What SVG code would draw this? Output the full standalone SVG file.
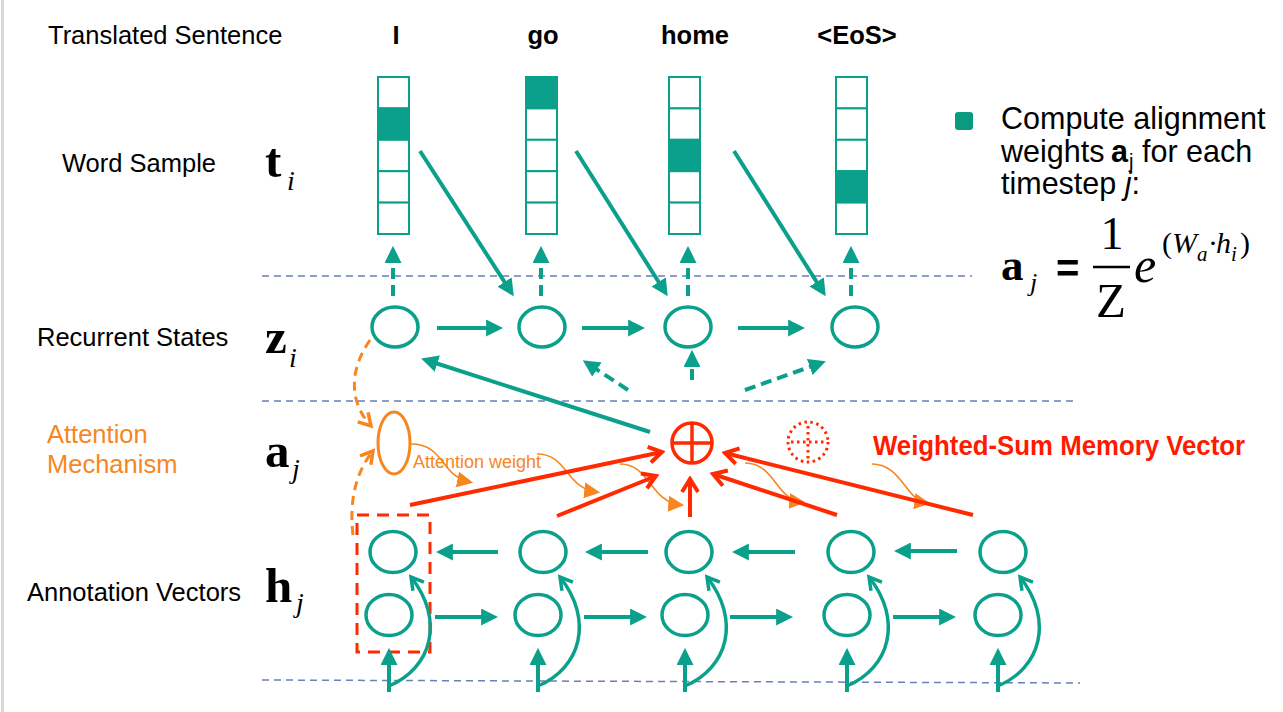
<svg xmlns="http://www.w3.org/2000/svg" width="1283" height="712" viewBox="0 0 1283 712">
<style>
.lbl{font-family:"Liberation Sans",Arial,sans-serif;font-size:25.5px;fill:#000}
.wd{font-family:"Liberation Sans",Arial,sans-serif;font-size:25.5px;font-weight:bold;fill:#000;text-anchor:middle}
.mb{font-family:"Liberation Serif","Times New Roman",serif;font-weight:bold;font-size:49px;fill:#000}
.mi{font-family:"Liberation Serif","Times New Roman",serif;font-style:italic;fill:#000}
.node{fill:none;stroke:#0ba08b;stroke-width:3.5}
.cell{fill:#fff;stroke:#0ba08b;stroke-width:2}
.on{fill:#0ba08b;stroke:#0ba08b;stroke-width:2}
.sep{stroke:#6b7fb8;stroke-width:1.5;stroke-dasharray:7 5;fill:none}
.tl{stroke:#0ba08b;stroke-width:4;fill:none;marker-end:url(#tri)}
.td{stroke:#0ba08b;stroke-width:4;fill:none;stroke-dasharray:11 6;marker-end:url(#tri)}
.tc{stroke:#0ba08b;stroke-width:3.5;fill:none;marker-end:url(#tv)}
.rl{stroke:#ff2a00;stroke-width:4;fill:none;marker-end:url(#rv)}
.od{stroke:#f7861f;stroke-width:3;fill:none;stroke-dasharray:9 6;marker-end:url(#ov)}
.oc{stroke:#f7861f;stroke-width:1.6;fill:none;marker-end:url(#ot)}
</style>
<defs>
<marker id="tri" viewBox="0 0 10 10" refX="7" refY="5" markerWidth="17" markerHeight="17" markerUnits="userSpaceOnUse" orient="auto"><path d="M0,0L10,5L0,10z" fill="#0ba08b"/></marker>
<marker id="tv" viewBox="0 0 20 20" refX="16" refY="10" markerWidth="20" markerHeight="20" markerUnits="userSpaceOnUse" orient="auto"><path d="M4,3L16,10L4,17" fill="none" stroke="#0ba08b" stroke-width="3.5"/></marker>
<marker id="rv" viewBox="0 0 20 20" refX="17" refY="10" markerWidth="20" markerHeight="20" markerUnits="userSpaceOnUse" orient="auto"><path d="M4,2L17,10L4,18" fill="none" stroke="#ff2a00" stroke-width="4"/></marker>
<marker id="ov" viewBox="0 0 20 20" refX="16" refY="10" markerWidth="20" markerHeight="20" markerUnits="userSpaceOnUse" orient="auto"><path d="M4,3L16,10L4,17" fill="none" stroke="#f7861f" stroke-width="3.5"/></marker>
<marker id="ot" viewBox="0 0 10 10" refX="8" refY="5" markerWidth="16" markerHeight="16" markerUnits="userSpaceOnUse" orient="auto"><path d="M0,0L10,5L0,10z" fill="#f7861f"/></marker>
</defs>
<rect width="1283" height="712" fill="#fff"/>
<line x1="2.5" y1="0" x2="2.5" y2="712" stroke="#d8d8d8" stroke-width="3"/>

<g id="separators">
<line class="sep" x1="262" y1="276" x2="972" y2="276"/>
<line class="sep" x1="262" y1="401" x2="1077" y2="401"/>
<line class="sep" x1="262" y1="680" x2="1080" y2="683"/>
</g>

<g id="labels">
<text class="lbl" x="48" y="44">Translated Sentence</text>
<text class="lbl" x="62" y="172">Word Sample</text>
<text class="lbl" x="37" y="346">Recurrent States</text>
<text class="lbl" x="47" y="443" style="fill:#f7861f">Attention</text>
<text class="lbl" x="47" y="473" style="fill:#f7861f">Mechanism</text>
<text class="lbl" x="27" y="601">Annotation Vectors</text>
<text class="mb" x="265" y="177">t</text><text class="mi" x="287" y="190" font-size="28">i</text>
<text class="mb" x="265" y="353">z</text><text class="mi" x="289" y="367" font-size="28">i</text>
<text class="mb" x="265" y="467">a</text><text class="mi" x="292" y="478" font-size="28">j</text>
<text class="mb" x="265" y="602">h</text><text class="mi" x="296" y="612" font-size="28">j</text>
</g>

<g id="words">
<text class="wd" x="396" y="44">I</text>
<text class="wd" x="543" y="44">go</text>
<text class="wd" x="695" y="44">home</text>
<text class="wd" x="857" y="44">&lt;EoS&gt;</text>
</g>

<g id="sample-I">
<rect class="cell" x="378" y="77" width="31" height="31.4"/><rect class="on" x="378" y="108.4" width="31" height="31.4"/><rect class="cell" x="378" y="139.8" width="31" height="31.4"/><rect class="cell" x="378" y="171.2" width="31" height="31.4"/><rect class="cell" x="378" y="202.6" width="31" height="31.4"/>
</g>
<g id="sample-go">
<rect class="on" x="526" y="77" width="31" height="31.4"/><rect class="cell" x="526" y="108.4" width="31" height="31.4"/><rect class="cell" x="526" y="139.8" width="31" height="31.4"/><rect class="cell" x="526" y="171.2" width="31" height="31.4"/><rect class="cell" x="526" y="202.6" width="31" height="31.4"/>
</g>
<g id="sample-home">
<rect class="cell" x="669" y="77" width="31" height="31.4"/><rect class="cell" x="669" y="108.4" width="31" height="31.4"/><rect class="on" x="669" y="139.8" width="31" height="31.4"/><rect class="cell" x="669" y="171.2" width="31" height="31.4"/><rect class="cell" x="669" y="202.6" width="31" height="31.4"/>
</g>
<g id="sample-eos">
<rect class="cell" x="836" y="77" width="31" height="31.4"/><rect class="cell" x="836" y="108.4" width="31" height="31.4"/><rect class="cell" x="836" y="139.8" width="31" height="31.4"/><rect class="on" x="836" y="171.2" width="31" height="31.4"/><rect class="cell" x="836" y="202.6" width="31" height="31.4"/>
</g>

<g id="z1"><ellipse class="node" cx="395" cy="327" rx="23" ry="20"/></g>
<g id="z2"><ellipse class="node" cx="542" cy="327" rx="23" ry="20"/></g>
<g id="z3"><ellipse class="node" cx="688" cy="327" rx="23" ry="20"/></g>
<g id="z4"><ellipse class="node" cx="855" cy="327" rx="23" ry="20"/></g>

<g id="attention"><ellipse cx="394" cy="443" rx="16" ry="31" fill="none" stroke="#f7861f" stroke-width="3"/></g>
<g id="attention-label"><text x="413" y="468" font-family="Liberation Sans, Arial, sans-serif" font-size="18" fill="#f7861f">Attention weight</text></g>

<g id="sum">
<circle cx="692" cy="443" r="20" fill="none" stroke="#ff2a00" stroke-width="3.5"/>
<line x1="672" y1="443" x2="712" y2="443" stroke="#ff2a00" stroke-width="3.5"/>
<line x1="692" y1="423" x2="692" y2="463" stroke="#ff2a00" stroke-width="3.5"/>
</g>
<g id="sum-dotted">
<circle cx="808" cy="442" r="20" fill="none" stroke="#ff2a00" stroke-width="3" stroke-dasharray="2.5 3.5"/>
<line x1="791" y1="442" x2="825" y2="442" stroke="#ff2a00" stroke-width="3" stroke-dasharray="2.5 3.5"/>
<line x1="808" y1="426" x2="808" y2="460" stroke="#ff2a00" stroke-width="3" stroke-dasharray="2.5 3.5"/>
</g>
<g id="memory-label"><text x="873" y="455" font-family="Liberation Sans, Arial, sans-serif" font-size="27" font-weight="bold" fill="#ff1a00" textLength="372" lengthAdjust="spacingAndGlyphs">Weighted-Sum Memory Vector</text></g>

<g id="window"><rect x="357" y="515" width="73" height="137" fill="none" stroke="#ff2a00" stroke-width="3" stroke-dasharray="12 8"/></g>

<g id="hb1"><ellipse class="node" cx="393" cy="552" rx="23" ry="20.5"/></g>
<g id="hb2"><ellipse class="node" cx="543" cy="552" rx="23" ry="20.5"/></g>
<g id="hb3"><ellipse class="node" cx="689" cy="552" rx="23" ry="20.5"/></g>
<g id="hb4"><ellipse class="node" cx="851" cy="552" rx="23" ry="20.5"/></g>
<g id="hb5"><ellipse class="node" cx="1003" cy="552" rx="23" ry="20.5"/></g>
<g id="hf1"><ellipse class="node" cx="389" cy="615" rx="23" ry="20.5"/></g>
<g id="hf2"><ellipse class="node" cx="538" cy="615" rx="23" ry="20.5"/></g>
<g id="hf3"><ellipse class="node" cx="685" cy="615" rx="23" ry="20.5"/></g>
<g id="hf4"><ellipse class="node" cx="847" cy="615" rx="23" ry="20.5"/></g>
<g id="hf5"><ellipse class="node" cx="998" cy="615" rx="23" ry="20.5"/></g>

<g id="bullet">
<rect x="955" y="112" width="18" height="18" rx="3" fill="#0a9a80"/>
<text font-family="Liberation Sans, Arial, sans-serif" font-size="30.5" fill="#000">
<tspan x="1001" y="129">Compute alignment</tspan>
<tspan x="1001" y="161.5">weights</tspan><tspan x="1111" y="161.5" font-weight="bold">a</tspan><tspan x="1129" y="168" font-size="20">j</tspan><tspan x="1142" y="161.5">for each</tspan>
<tspan x="1001" y="194">timestep <tspan font-style="italic">j</tspan>:</tspan>
</text>
</g>
<g id="formula" font-family="Liberation Serif, Times New Roman, serif">
<text x="1001" y="280" font-size="45" font-weight="bold">a</text>
<text x="1030" y="291" font-size="26" font-style="italic">j</text>
<text x="1056" y="282" font-size="40" font-weight="bold" font-family="Liberation Sans, Arial, sans-serif">=</text>
<text x="1112" y="249" font-size="46" text-anchor="middle">1</text>
<line x1="1093" y1="267" x2="1130" y2="267" stroke="#000" stroke-width="2.5"/>
<text x="1111" y="317" font-size="49" text-anchor="middle">Z</text>
<text x="1134" y="282" font-size="50" font-style="italic">e</text>
<text y="253" font-size="30"><tspan x="1162">(</tspan><tspan x="1172" font-style="italic">W</tspan><tspan x="1197" y="261" font-size="21" font-style="italic">a</tspan><tspan x="1208" y="253">·</tspan><tspan x="1216" font-style="italic">h</tspan><tspan x="1231" y="261" font-size="21" font-style="italic">i</tspan><tspan x="1240" y="253">)</tspan></text>
</g>

<g id="connectors">
<line class="td" x1="393" y1="296" x2="393" y2="251"/>
<line class="td" x1="541" y1="296" x2="541" y2="251"/>
<line class="td" x1="688" y1="296" x2="688" y2="251"/>
<line class="td" x1="851" y1="296" x2="851" y2="251"/>
<line class="tl" x1="420" y1="151" x2="511" y2="292"/>
<line class="tl" x1="576" y1="151" x2="665" y2="292"/>
<line class="tl" x1="734" y1="151" x2="823" y2="292"/>
<line class="tl" x1="437" y1="328" x2="498" y2="328"/>
<line class="tl" x1="582" y1="328" x2="640" y2="328"/>
<line class="tl" x1="738" y1="328" x2="800" y2="328"/>
<line class="tl" x1="650" y1="432" x2="426" y2="360"/>
<line class="td" x1="628" y1="390" x2="587" y2="363"/>
<line class="td" x1="692" y1="380" x2="692" y2="355"/>
<line class="td" x1="745" y1="390" x2="821" y2="363"/>
<path class="od" d="M370,340 C348,372 350,403 371,426"/>
<path class="od" d="M353,535 C349,500 356,472 373,451"/>
<path class="oc" d="M411,444 C445,444 440,476 470,482"/>
<path class="oc" d="M537,454 C568,454 565,488 597,492"/>
<path class="oc" d="M620,464 C650,464 650,502 681,505"/>
<path class="oc" d="M745,463 C775,463 776,500 802,502"/>
<path class="oc" d="M872,464 C902,464 905,500 927,503"/>
<line class="rl" x1="410" y1="505" x2="662" y2="452"/>
<line class="rl" x1="557" y1="516" x2="656" y2="476"/>
<line class="rl" x1="690" y1="517" x2="690" y2="479"/>
<line class="rl" x1="837" y1="515" x2="713" y2="474"/>
<line class="rl" x1="973" y1="515" x2="725" y2="453"/>
<line class="tl" x1="498" y1="552" x2="441" y2="552"/>
<line class="tl" x1="648" y1="552" x2="590" y2="552"/>
<line class="tl" x1="795" y1="552" x2="737" y2="552"/>
<line class="tl" x1="957" y1="551" x2="899" y2="551"/>
<line class="tl" x1="435" y1="617" x2="493" y2="617"/>
<line class="tl" x1="584" y1="617" x2="642" y2="617"/>
<line class="tl" x1="730" y1="617" x2="788" y2="617"/>
<line class="tl" x1="893" y1="617" x2="951" y2="617"/>
<line class="tl" x1="389" y1="692" x2="389" y2="653"/>
<line class="tl" x1="538" y1="692" x2="538" y2="653"/>
<line class="tl" x1="685" y1="692" x2="685" y2="653"/>
<line class="tl" x1="847" y1="692" x2="847" y2="653"/>
<line class="tl" x1="998" y1="692" x2="998" y2="653"/>
<path class="tc" d="M389,686 C432,668 445,620 411,577"/>
<path class="tc" d="M538,686 C581,668 594,620 560,577"/>
<path class="tc" d="M685,686 C728,668 741,620 707,577"/>
<path class="tc" d="M847,686 C890,668 903,620 869,577"/>
<path class="tc" d="M998,686 C1041,668 1054,620 1020,577"/>
</g>
</svg>
